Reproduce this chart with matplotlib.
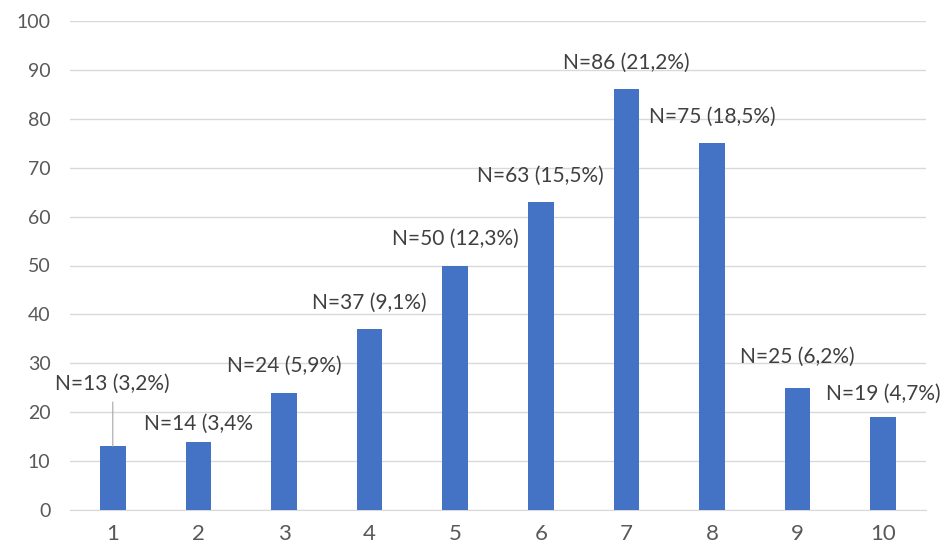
import matplotlib.pyplot as plt

categories = [1, 2, 3, 4, 5, 6, 7, 8, 9, 10]
counts = [13, 14, 24, 37, 50, 63, 86, 75, 25, 19]
labels = ['N=13 (3,2%)', 'N=14 (3,4%', 'N=24 (5,9%)', 'N=37 (9,1%)',
          'N=50 (12,3%)', 'N=63 (15,5%)', 'N=86 (21,2%)', 'N=75 (18,5%)',
          'N=25 (6,2%)', 'N=19 (4,7%)']

plt.rcParams['font.family'] = ['Lato', 'DejaVu Sans']

fig = plt.figure(figsize=(9.44, 5.5), dpi=100)
ax = fig.add_axes([70 / 944, 40 / 550, 856 / 944, 489 / 550])

ax.bar(categories, counts, width=0.30, color='#4472C4', zorder=3)

# label offsets in points (x, y) above bar top
offsets = [(0, 45), (0, 13), (0, 19), (0, 19), (0, 19),
           (0, 19), (0, 19), (0, 19), (0, 22), (0, 17)]
for x, v, lab, off in zip(categories, counts, labels, offsets):
    ax.annotate(lab, (x, v), xytext=off, textcoords='offset points',
                ha='center', va='center', fontsize=15, color='#404040',
                zorder=4)
# leader line for the first label
ax.annotate('', (categories[0], counts[0]), xytext=(0, 32),
            textcoords='offset points',
            arrowprops=dict(arrowstyle='-', color='#A6A6A6', lw=0.8,
                            shrinkA=0, shrinkB=0))

ax.set_xlim(0.5, 10.5)
ax.set_ylim(0, 100)
ax.set_yticks(range(0, 101, 10))
ax.set_xticks(categories)
ax.grid(axis='y', color='#D9D9D9', lw=1, zorder=0)
for s in ['top', 'right', 'left']:
    ax.spines[s].set_visible(False)
ax.spines['bottom'].set_color('#D9D9D9')
ax.tick_params(axis='both', length=0, colors='#595959', labelsize=14)
ax.tick_params(axis='x', pad=10, labelsize=16)
ax.tick_params(axis='y', pad=14)

fig.savefig('out.png', dpi=100)
